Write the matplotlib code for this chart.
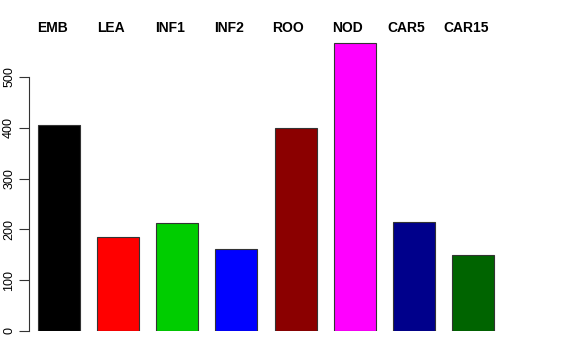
import matplotlib
matplotlib.use("Agg")
from matplotlib import pyplot as plt
import matplotlib.transforms as mtransforms
import numpy as np

plt.rcParams['font.family'] = ['Liberation Sans', 'DejaVu Sans']

# values
groups = ['EMB', 'LEA', 'INF1', 'INF2', 'ROO', 'NOD', 'CAR5', 'CAR15']
counts = [405, 185, 213, 161, 400, 567, 214, 150]
colours = ['#000000', '#FF0000', '#00CD00', '#0000FF',
           '#8B0000', '#FF00FF', '#00008B', '#006400']
yticks = [0, 100, 200, 300, 400, 500]

fig = plt.figure(figsize=(5.76, 3.6), dpi=100)
ax = fig.add_axes([29 / 576, 29 / 360, (545 - 29) / 576, 294.6 / 360])

x = np.arange(len(groups))
ax.bar(x, counts, width=0.71, color=colours, edgecolor='#333333', linewidth=0.8)

ax.set_xlim(-0.51, 8.22)
ax.set_ylim(0, 580)

for side in ['top', 'right', 'bottom']:
    ax.spines[side].set_visible(False)
ax.spines['left'].set_bounds(0, 500)
ax.spines['left'].set_color('#333333')
ax.spines['left'].set_linewidth(0.8)
ax.set_xticks([])
ax.set_yticks(yticks)
ax.set_yticklabels([str(t) for t in yticks], rotation=90, va='center', fontsize=9)
ax.tick_params(axis='y', length=7, width=0.8, color='#333333', pad=3)

# group names across the top
trans = mtransforms.blended_transform_factory(ax.transData, fig.transFigure)
for xi, name in zip(x, groups):
    ax.text(xi - 0.12, 1 - 28 / 360, name, transform=trans, ha='center', va='center',
            fontsize=10, fontweight='bold')

fig.savefig('out.png', dpi=100)
